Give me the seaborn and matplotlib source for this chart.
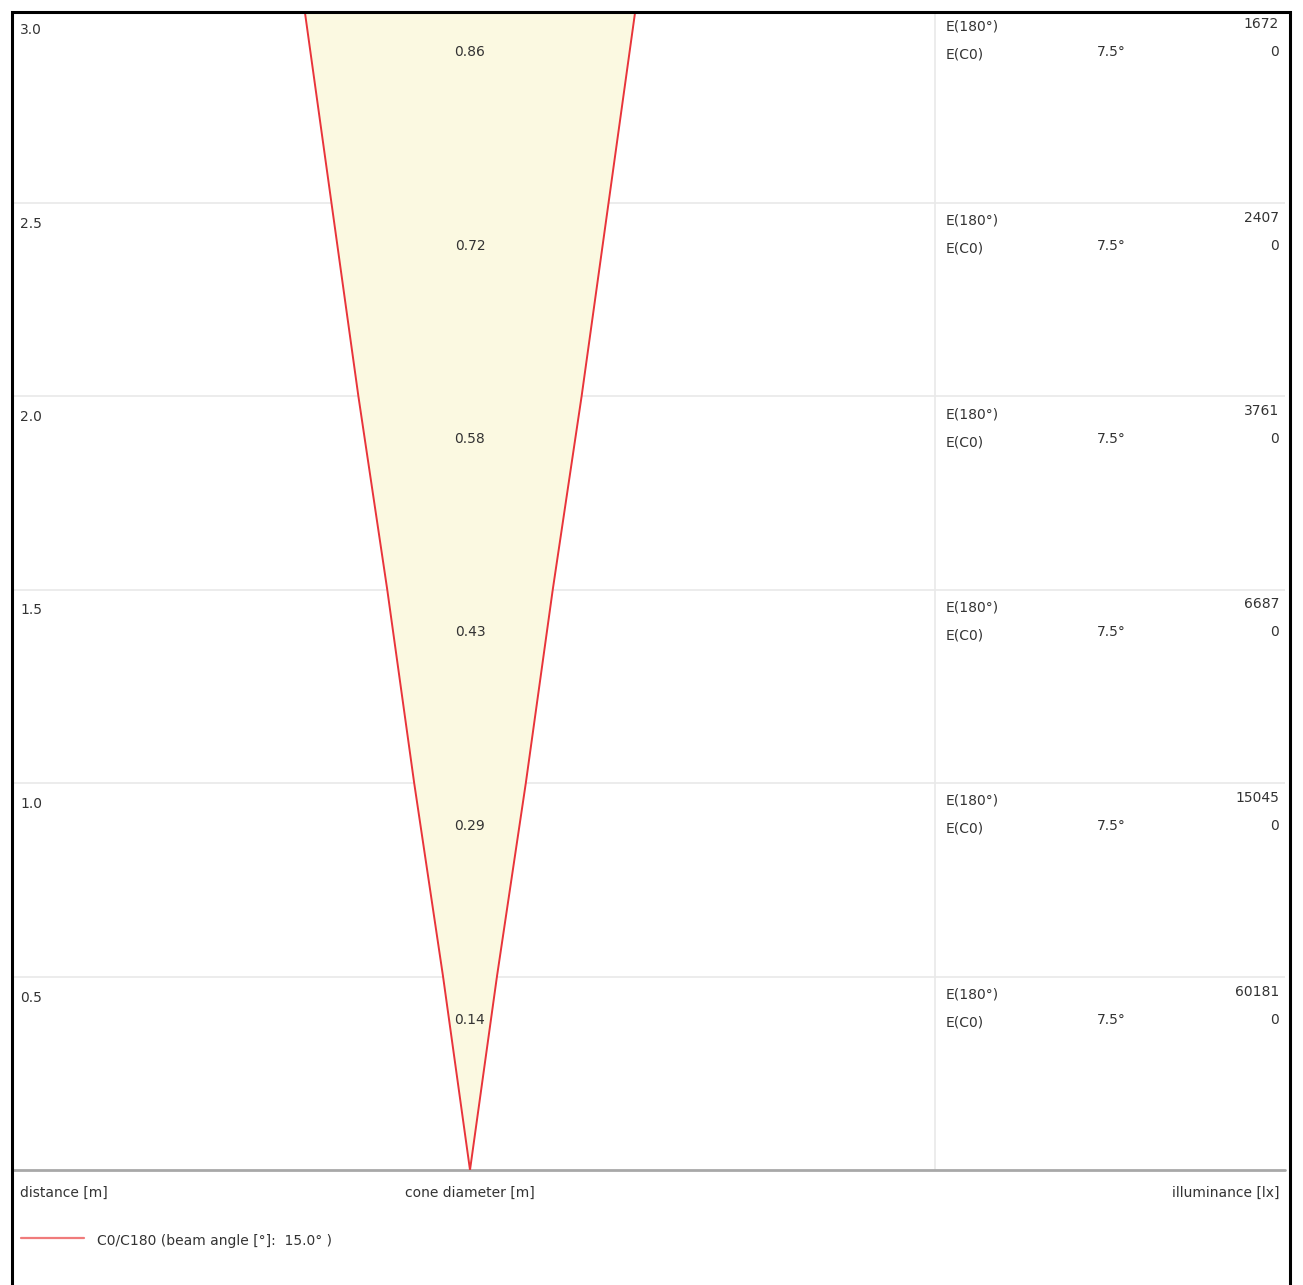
import numpy as np
import pandas as pd
import matplotlib
matplotlib.use("Agg")
import matplotlib.pyplot as plt
from matplotlib.lines import Line2D
from matplotlib.patches import Rectangle
import seaborn as sns

# ── Data ──────────────────────────────────────────────────────
distances = [0.5, 1.0, 1.5, 2.0, 2.5, 3.0]
cone_diam = [0.14, 0.29, 0.43, 0.58, 0.72, 0.86]
e_c180 = [60181, 15045, 6687, 3761, 2407, 1672]
e_c0 = [0, 0, 0, 0, 0, 0]
half_angle = "7.5°"
legend_label = "C0/C180 (beam angle [°]:  15.0° )"

# ── Style ─────────────────────────────────────────────────────
sns.set_theme(style="white")
plt.rcParams["font.family"] = ["DejaVu Sans"]
txt = "#333333"
red = "#e8343a"
fs = 10

W, H = 1303, 1285
fig = plt.figure(figsize=(W / 100, H / 100), dpi=100)
# plot area in pixels: x 12..1285, y 9..1170 (top row hidden under frame)
ax = fig.add_axes([12 / W, (H - 1170) / H, (1285 - 12) / W, (1170 - 9) / H])

# x in metres, cone centred at pixel 470 with ~385 px per metre
px_per_m = 385
ax.set_xlim(-(470 - 12) / px_per_m, (1285 - 470) / px_per_m)
ax.set_ylim(0, 3.0)
ax.set_xticks([])
ax.set_yticks([])
for s in ax.spines.values():
    s.set_visible(False)

# grid rows + divider column
for d in distances[:-1]:
    ax.axhline(d, color="#e9e9e9", lw=1.2, zorder=0)
div_frac = (935 - 12) / (1285 - 12)
ax.axvline(ax.get_xlim()[0] + div_frac * np.diff(ax.get_xlim())[0],
           color="#e9e9e9", lw=1.2, zorder=0)
ax.axhline(0, color="#a8a8a8", lw=2, zorder=1, clip_on=False)

# ── Cone ──────────────────────────────────────────────────────
cone = pd.DataFrame({
    "dist": [0.0] + distances,
    "half": [0.0] + [c / 2 for c in cone_diam],
})
ax.fill_betweenx(cone["dist"], -cone["half"], cone["half"],
                 color="#fbf9e1", lw=0, zorder=2)
sns.lineplot(data=cone, x="half", y="dist", orient="y", sort=False,
             color=red, lw=1.4, ax=ax, zorder=3)
cone_neg = cone.assign(half=-cone["half"])
sns.lineplot(data=cone_neg, x="half", y="dist", orient="y", sort=False,
             color=red, lw=1.4, ax=ax, zorder=3)

# ── Row labels ────────────────────────────────────────────────
for d, c, e180, e0 in zip(distances, cone_diam, e_c180, e_c0):
    ax.annotate(f"{d:.1f}", (0, d), xycoords=("axes fraction", "data"),
                xytext=(8, -21), textcoords="offset pixels",
                ha="left", va="center", fontsize=fs, color=txt)
    ax.annotate(f"{c:.2f}", (0, d), xycoords="data",
                xytext=(0, -43), textcoords="offset pixels",
                ha="center", va="center", fontsize=fs, color=txt)
    ax.annotate("E(180°)", (div_frac, d), xycoords=("axes fraction", "data"),
                xytext=(11, -18), textcoords="offset pixels",
                ha="left", va="center", fontsize=fs, color=txt)
    ax.annotate("E(C0)", (div_frac, d), xycoords=("axes fraction", "data"),
                xytext=(11, -46), textcoords="offset pixels",
                ha="left", va="center", fontsize=fs, color=txt)
    ax.annotate(half_angle, (div_frac, d), xycoords=("axes fraction", "data"),
                xytext=(162, -43), textcoords="offset pixels",
                ha="left", va="center", fontsize=fs, color=txt)
    ax.annotate(f"{e180}", (1, d), xycoords=("axes fraction", "data"),
                xytext=(-6, -15), textcoords="offset pixels",
                ha="right", va="center", fontsize=fs, color=txt)
    ax.annotate(f"{e0}", (1, d), xycoords=("axes fraction", "data"),
                xytext=(-6, -43), textcoords="offset pixels",
                ha="right", va="center", fontsize=fs, color=txt)

# ── Axis captions ─────────────────────────────────────────────
ax.annotate("distance [m]", (0, 0), xycoords=("axes fraction", "data"),
            xytext=(8, -23), textcoords="offset pixels",
            ha="left", va="center", fontsize=fs, color=txt)
ax.annotate("cone diameter [m]", (0, 0), xycoords="data",
            xytext=(0, -23), textcoords="offset pixels",
            ha="center", va="center", fontsize=fs, color=txt)
ax.annotate("illuminance [lx]", (1, 0), xycoords=("axes fraction", "data"),
            xytext=(-6, -23), textcoords="offset pixels",
            ha="right", va="center", fontsize=fs, color=txt)

# ── Legend ────────────────────────────────────────────────────
fig.add_artist(Line2D([21 / W, 84 / W], [(H - 1238) / H] * 2,
                      color="#f07b7b", lw=1.6, transform=fig.transFigure))
fig.text(97 / W, (H - 1241) / H, legend_label, ha="left", va="center",
         fontsize=fs, color=txt)

# ── Outer frame (white strip masks the cone above the top edge) ──
fig.add_artist(Rectangle((0, (H - 12) / H), 1, 12 / H, fc="white", ec="none",
                         transform=fig.transFigure, zorder=5))
fig.add_artist(Rectangle((12 / W, -0.05), (1290 - 12) / W,
                         (H - 12) / H + 0.05, fill=False, ec="black",
                         lw=2.2, transform=fig.transFigure, clip_on=False,
                         zorder=6))

fig.savefig("out.png", dpi=100, facecolor="white")
